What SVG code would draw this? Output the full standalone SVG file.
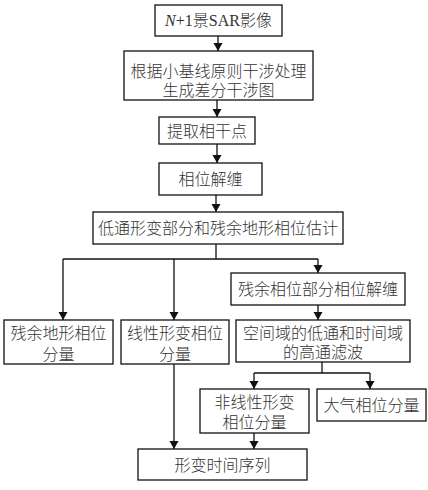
<svg xmlns="http://www.w3.org/2000/svg" width="428" height="490" viewBox="0 0 428 490">
<style>
.box{fill:#fff;stroke:#111;stroke-width:1.3}
.t{font-family:"Liberation Serif","Noto Sans CJK SC",serif;font-size:16px;font-weight:300;fill:#333;text-anchor:middle}
.c{fill:none;stroke:#111;stroke-width:1.3}
</style>
<defs>
<marker id="ah" viewBox="0 0 8 10" refX="8" refY="5" markerWidth="8" markerHeight="10" markerUnits="userSpaceOnUse" orient="auto">
<path d="M0,0.5 L8,5 L0,9.5 Z" fill="#111"/>
</marker>
</defs>
<rect width="428" height="490" fill="#fff"/>
<g id="connectors">
<line class="c" x1="218" y1="36" x2="218" y2="51" marker-end="url(#ah)"/>
<line class="c" x1="217" y1="100" x2="217" y2="117" marker-end="url(#ah)"/>
<line class="c" x1="217" y1="144" x2="217" y2="163" marker-end="url(#ah)"/>
<line class="c" x1="216" y1="195" x2="216" y2="212" marker-end="url(#ah)"/>
<polyline class="c" points="216,244 216,259"/>
<line class="c" x1="63" y1="259" x2="318" y2="259"/>
<line class="c" x1="63" y1="259" x2="63" y2="320" marker-end="url(#ah)"/>
<line class="c" x1="174" y1="259" x2="174" y2="320" marker-end="url(#ah)"/>
<line class="c" x1="318" y1="259" x2="318" y2="273" marker-end="url(#ah)"/>
<line class="c" x1="318" y1="305" x2="318" y2="320" marker-end="url(#ah)"/>
<line class="c" x1="322" y1="362" x2="322" y2="373"/>
<line class="c" x1="254" y1="373" x2="370" y2="373"/>
<line class="c" x1="254" y1="373" x2="254" y2="389" marker-end="url(#ah)"/>
<line class="c" x1="370" y1="373" x2="370" y2="389" marker-end="url(#ah)"/>
<line class="c" x1="174" y1="364" x2="174" y2="449" marker-end="url(#ah)"/>
<line class="c" x1="254" y1="433" x2="254" y2="449" marker-end="url(#ah)"/>
</g>
<g id="n1"><rect class="box" x="155" y="5" width="127" height="31"/><text class="t" x="218.5" y="26"><tspan font-style="italic">N</tspan>+1景SAR影像</text></g>
<g id="n2"><rect class="box" x="124" y="51" width="189" height="49"/><text class="t" x="218.5" y="77">根据小基线原则干涉处理</text><text class="t" x="218.5" y="96">生成差分干涉图</text></g>
<g id="n3"><rect class="box" x="159" y="117" width="96" height="27"/><text class="t" x="207" y="137">提取相干点</text></g>
<g id="n4"><rect class="box" x="159" y="163" width="103" height="32"/><text class="t" x="210.5" y="185">相位解缠</text></g>
<g id="n5"><rect class="box" x="93" y="212" width="250" height="32"/><text class="t" x="218" y="234">低通形变部分和残余地形相位估计</text></g>
<g id="n6"><rect class="box" x="231" y="273" width="174" height="32"/><text class="t" x="318" y="295">残余相位部分相位解缠</text></g>
<g id="n7"><rect class="box" x="4" y="320" width="109" height="44"/><text class="t" x="58.5" y="339">残余地形相位</text><text class="t" x="58.5" y="360">分量</text></g>
<g id="n8"><rect class="box" x="121" y="320" width="108" height="44"/><text class="t" x="175" y="339">线性形变相位</text><text class="t" x="175" y="360">分量</text></g>
<g id="n9"><rect class="box" x="236" y="320" width="174" height="42"/><text class="t" x="323" y="339">空间域的低通和时间域</text><text class="t" x="323" y="358">的高通滤波</text></g>
<g id="n10"><rect class="box" x="200" y="389" width="109" height="44"/><text class="t" x="254.5" y="408">非线性形变</text><text class="t" x="254.5" y="428">相位分量</text></g>
<g id="n11"><rect class="box" x="317" y="389" width="109" height="32"/><text class="t" x="371.5" y="411">大气相位分量</text></g>
<g id="n12"><rect class="box" x="138" y="449" width="169" height="31"/><text class="t" x="222.5" y="471">形变时间序列</text></g>
</svg>
